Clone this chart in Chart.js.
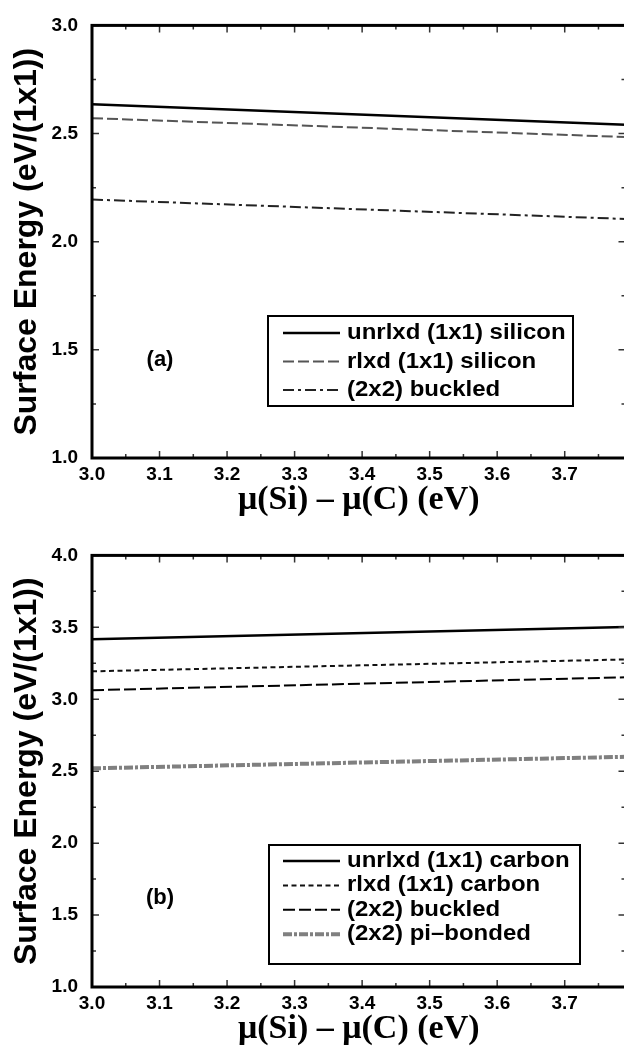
<!DOCTYPE html>
<html>
<head>
<meta charset="utf-8">
<script src="https://cdn.jsdelivr.net/npm/chart.js@4.4.1/dist/chart.umd.min.js"></script>
<style>
  html, body { margin: 0; padding: 0; overflow: hidden; background: #fff; }
  .panel { position: relative; width: 632px; }
</style>
</head>
<body>
<div class="panel"><canvas id="panelA" width="632" height="530"></canvas></div>
<div class="panel"><canvas id="panelB" width="632" height="516"></canvas></div>
<script>
// chemical potential difference mu(Si) - mu(C), eV (line end points)
const muValues = [3.0, 3.79];

const xTickValues = [3.0, 3.1, 3.2, 3.3, 3.4, 3.5, 3.6, 3.7];
const xMinorValues = [3.05, 3.15, 3.25, 3.35, 3.45, 3.55, 3.65, 3.75];
const yTicksA = [1.0, 1.5, 2.0, 2.5, 3.0];
const yMinorA = [1.25, 1.75, 2.25, 2.75];
const yTicksB = [1.0, 1.5, 2.0, 2.5, 3.0, 3.5, 4.0];
const yMinorB = [1.25, 1.75, 2.25, 2.75, 3.25, 3.75];

// (a) silicon terminated surfaces, eV/(1x1)
const siliconLabels = ["unrlxd (1x1) silicon", "rlxd (1x1) silicon", "(2x2) buckled"];
const unrelaxedSi = [2.636, 2.541];
const relaxedSi = [2.571, 2.484];
const buckledSi = [2.195, 2.105];

// (b) carbon terminated surfaces, eV/(1x1)
const carbonLabels = ["unrlxd (1x1) carbon", "rlxd (1x1) carbon", "(2x2) buckled", "(2x2) pi\u2013bonded"];
const unrelaxedC = [3.417, 3.502];
const relaxedC = [3.194, 3.277];
const buckledC = [3.063, 3.153];
const piBondedC = [2.52, 2.60];

const SANS = '"Liberation Sans", Arial, sans-serif';
const SERIF = '"Liberation Serif", "Times New Roman", serif';

function points(ys) {
    return muValues.map((x, i) => ({ x: x, y: ys[i] }));
}

// inward ticks on all four sides plus the heavy frame
const framePlugin = {
    id: "frame",
    afterDatasetsDraw(chart, args, opts) {
        const { ctx, chartArea: a, scales: { x, y } } = chart;
        ctx.save();
        ctx.strokeStyle = "#333";
        ctx.lineWidth = 1.5;
        ctx.setLineDash([]);
        ctx.beginPath();
        const xt = (vals, len) => vals.forEach(v => {
            const px = x.getPixelForValue(v);
            ctx.moveTo(px, a.bottom); ctx.lineTo(px, a.bottom - len);
            ctx.moveTo(px, a.top); ctx.lineTo(px, a.top + len);
        });
        const yt = (vals, len) => vals.forEach(v => {
            const py = y.getPixelForValue(v);
            ctx.moveTo(a.left, py); ctx.lineTo(a.left + len, py);
            ctx.moveTo(a.right, py); ctx.lineTo(a.right - len, py);
        });
        xt(xTickValues, 7);
        xt(xMinorValues, 4);
        yt(opts.major, 7);
        yt(opts.minor, 4);
        ctx.stroke();
        ctx.strokeStyle = "#000";
        ctx.lineWidth = 3;
        ctx.strokeRect(a.left, a.top, a.right - a.left, a.bottom - a.top);
        ctx.restore();
    }
};

// boxed legend and panel tag
const boxLegend = {
    id: "boxLegend",
    afterDraw(chart, args, o) {
        const ctx = chart.ctx;
        ctx.save();
        ctx.fillStyle = "#fff";
        ctx.fillRect(o.left, o.top, o.width, o.height);
        ctx.setLineDash([]);
        ctx.lineWidth = 2;
        ctx.strokeStyle = "#000";
        ctx.strokeRect(o.left, o.top, o.width, o.height);
        chart.data.datasets.forEach((ds, i) => {
            const yy = o.top + o.firstRow + i * o.rowGap;
            ctx.beginPath();
            ctx.setLineDash(ds.borderDash || []);
            ctx.lineWidth = ds.borderWidth;
            ctx.strokeStyle = ds.borderColor;
            ctx.moveTo(o.lineStart, yy);
            ctx.lineTo(o.lineEnd, yy);
            ctx.stroke();
            ctx.setLineDash([]);
            ctx.fillStyle = "#000";
            ctx.font = "bold 22px " + SANS;
            ctx.textAlign = "left";
            ctx.textBaseline = "middle";
            ctx.save();
            ctx.translate(o.textX, yy);
            ctx.scale(1.09, 1);
            ctx.fillText(ds.label, 0, 0);
            ctx.restore();
        });
        ctx.fillStyle = "#000";
        ctx.font = "bold 22px " + SANS;
        ctx.textAlign = "center";
        ctx.textBaseline = "middle";
        ctx.fillText(o.tag, o.tagX, o.tagY);
        ctx.restore();
    }
};

function makeOptions(cfg) {
    return {
        responsive: false,
        animation: false,
        layout: { padding: { top: cfg.padTop, right: 6.5, left: 0, bottom: 0 } },
        plugins: {
            legend: { display: false },
            tooltip: { enabled: false },
            frame: { major: cfg.yMajor, minor: cfg.yMinor },
            boxLegend: cfg.legend
        },
        elements: { point: { radius: 0 }, line: { tension: 0 } },
        scales: {
            x: {
                type: "linear",
                min: 3.0,
                max: 3.79,
                grid: { display: false, drawTicks: false },
                border: { display: false },
                afterBuildTicks: s => { s.ticks = xTickValues.map(v => ({ value: v })); },
                afterFit: s => { s.height = cfg.xHeight; },
                ticks: {
                    color: "#000",
                    padding: 5,
                    maxRotation: 0,
                    font: { family: SANS, size: 19, weight: "bold" },
                    callback: v => v.toFixed(1)
                },
                title: {
                    display: true,
                    text: "\u03bc(Si) \u2013 \u03bc(C) (eV)",
                    color: "#000",
                    font: { family: SERIF, size: 34, weight: "bold", lineHeight: 1 },
                    padding: { top: 0, bottom: cfg.titlePad }
                }
            },
            y: {
                type: "linear",
                min: cfg.yMin,
                max: cfg.yMax,
                grid: { display: false, drawTicks: false },
                border: { display: false },
                afterBuildTicks: s => { s.ticks = cfg.yMajor.map(v => ({ value: v })); },
                afterFit: s => { s.width = 92; },
                ticks: {
                    color: "#000",
                    padding: 14,
                    font: { family: SANS, size: 19, weight: "bold" },
                    callback: v => v.toFixed(1)
                },
                title: {
                    display: true,
                    text: "Surface Energy (eV/(1x1))",
                    color: "#000",
                    font: { family: SANS, size: 32, weight: "bold", lineHeight: 1.2 },
                    padding: { top: 8, bottom: 0 }
                }
            }
        }
    };
}

new Chart(document.getElementById("panelA"), {
    type: "line",
    data: {
        datasets: [
            { label: siliconLabels[0], data: points(unrelaxedSi), borderColor: "#000", borderWidth: 2.5 },
            { label: siliconLabels[1], data: points(relaxedSi), borderColor: "#555", borderWidth: 2, borderDash: [11, 4] },
            { label: siliconLabels[2], data: points(buckledSi), borderColor: "#222", borderWidth: 2, borderDash: [11, 4, 3, 4] }
        ]
    },
    options: makeOptions({
        padTop: 15, xHeight: 72, titlePad: 13,
        yMin: 1.0, yMax: 3.0, yMajor: yTicksA, yMinor: yMinorA,
        legend: {
            left: 268, top: 316, width: 305, height: 90,
            firstRow: 17, rowGap: 28.5, lineStart: 283, lineEnd: 340, textX: 347,
            tag: "(a)", tagX: 160, tagY: 360
        }
    }),
    plugins: [framePlugin, boxLegend]
});

new Chart(document.getElementById("panelB"), {
    type: "line",
    data: {
        datasets: [
            { label: carbonLabels[0], data: points(unrelaxedC), borderColor: "#000", borderWidth: 2.5 },
            { label: carbonLabels[1], data: points(relaxedC), borderColor: "#111", borderWidth: 2, borderDash: [5, 3.5] },
            { label: carbonLabels[2], data: points(buckledC), borderColor: "#000", borderWidth: 2, borderDash: [12, 4] },
            { label: carbonLabels[3], data: points(piBondedC), borderColor: "#808080", borderWidth: 4, borderDash: [9, 2, 3, 2] }
        ]
    },
    options: makeOptions({
        padTop: 13, xHeight: 59, titlePad: 0,
        yMin: 1.0, yMax: 4.0, yMajor: yTicksB, yMinor: yMinorB,
        legend: {
            left: 269, top: 315, width: 311, height: 119,
            firstRow: 16, rowGap: 24.4, lineStart: 283, lineEnd: 340, textX: 347,
            tag: "(b)", tagX: 160, tagY: 368
        }
    }),
    plugins: [framePlugin, boxLegend]
});
</script>
</body>
</html>
